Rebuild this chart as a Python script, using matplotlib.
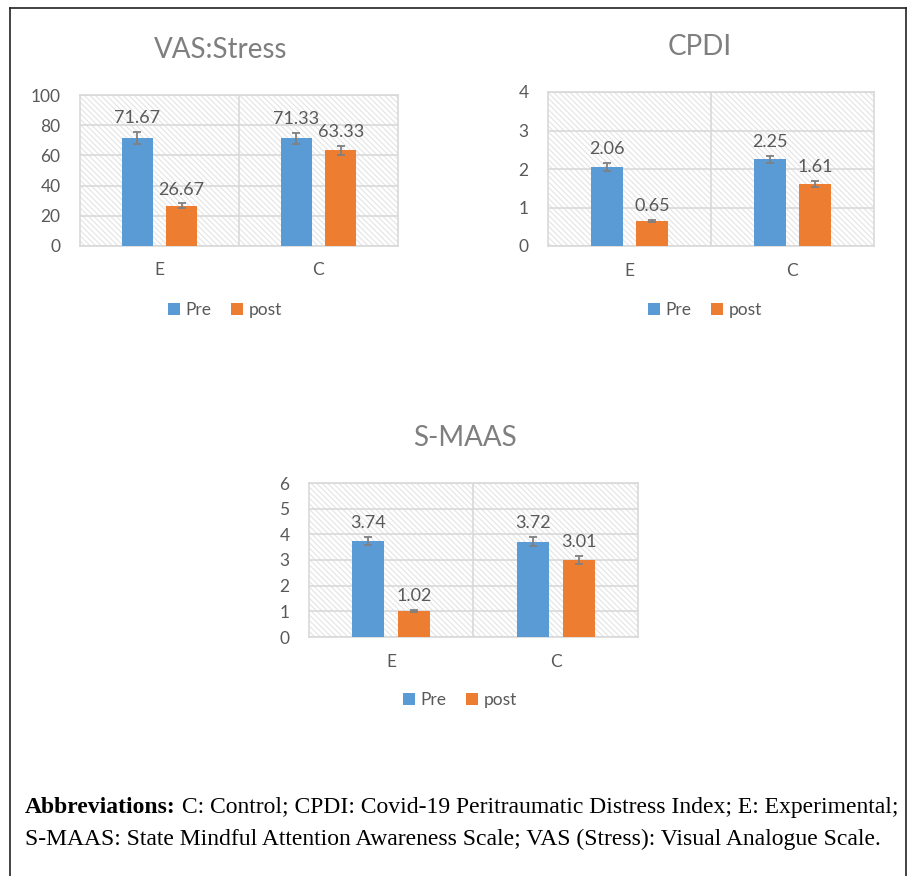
import matplotlib
matplotlib.use("Agg")
import matplotlib.pyplot as plt
from matplotlib.patches import Rectangle, Patch
from matplotlib.lines import Line2D

categories = ["E", "C"]
series_names = ["Pre", "post"]

vas_pre = [71.67, 71.33]
vas_post = [26.67, 63.33]
vas_pre_err = [4.0, 3.7]
vas_post_err = [1.5, 3.2]

cpdi_pre = [2.06, 2.25]
cpdi_post = [0.65, 1.61]
cpdi_pre_err = [0.10, 0.09]
cpdi_post_err = [0.03, 0.08]

smaas_pre = [3.74, 3.72]
smaas_post = [1.02, 3.01]
smaas_pre_err = [0.17, 0.19]
smaas_post_err = [0.05, 0.15]

vas_ticks = [0, 20, 40, 60, 80, 100]
cpdi_ticks = [0, 1, 2, 3, 4]
smaas_ticks = [0, 1, 2, 3, 4, 5, 6]

C_PRE = "#5B9BD5"
C_POST = "#ED7D31"
TXT = "#595959"
GRID = "#d9d9d9"
FONT = "Lato"
FS = 12.5

plt.rcParams["hatch.linewidth"] = 0.8

W, H = 912, 876
fig = plt.figure(figsize=(W / 100, H / 100), dpi=100)


def fbox(l, t, r, b):
    return [l / W, (H - b) / H, (r - l) / W, (b - t) / H]


def panel(rect, title, pre, post, pre_err, post_err, ticks, title_xy, cat_y, leg_xy):
    ax = fig.add_axes(rect)
    ax.set_xlim(0, 2)
    ax.set_ylim(ticks[0], ticks[-1])
    ax.add_patch(Rectangle((0, 0), 1, 1, transform=ax.transAxes, facecolor="white",
                           edgecolor="#e4e4e4", hatch="\\\\\\\\\\\\", lw=0, zorder=0))
    for t in ticks:
        ax.axhline(t, color=GRID, lw=1.2, zorder=1)
    ax.axvline(1, color=GRID, lw=1.2, zorder=1)
    for s in ax.spines.values():
        s.set_color(GRID)
        s.set_linewidth(1.2)
    xs = [0.5, 1.5]
    bw = 0.195
    off = 0.14
    xp = [x - off for x in xs]
    xq = [x + off for x in xs]
    ax.bar(xp, pre, width=bw, color=C_PRE, zorder=3)
    ax.bar(xq, post, width=bw, color=C_POST, zorder=3)
    ax.errorbar(xp, pre, yerr=pre_err, fmt="none", ecolor="#808080", elinewidth=1.3,
                capsize=3.2, capthick=1.3, zorder=4)
    ax.errorbar(xq, post, yerr=post_err, fmt="none", ecolor="#808080", elinewidth=1.3,
                capsize=3.2, capthick=1.3, zorder=4)
    for x, v, e in list(zip(xp, pre, pre_err)) + list(zip(xq, post, post_err)):
        ax.annotate(f"{v:.2f}", xy=(x, v + e), xytext=(0, 4), textcoords="offset points",
                    ha="center", va="bottom", fontsize=13, color=TXT, family=FONT, zorder=5)
    ax.set_yticks(ticks)
    ax.set_yticklabels([str(t) for t in ticks], fontsize=FS, color=TXT, family=FONT)
    ax.tick_params(axis="y", length=0, pad=14)
    ax.set_xticks([])
    for x, c in zip(xs, categories):
        ax.text(x, cat_y, c, transform=ax.get_xaxis_transform(), ha="center", va="center",
                fontsize=FS, color=TXT, family=FONT)
    fig.text(title_xy[0] / W, 1 - title_xy[1] / H, title, ha="center", va="center",
             fontsize=20, color="#7f7f7f", family=FONT)
    handles = [Patch(facecolor=C_PRE), Patch(facecolor=C_POST)]
    leg = fig.legend(handles, series_names, loc="center",
                     bbox_to_anchor=(leg_xy[0] / W, 1 - leg_xy[1] / H), ncol=2, frameon=False,
                     handlelength=0.7, handleheight=0.7, handletextpad=0.35, columnspacing=1.1,
                     prop={"family": FONT, "size": FS})
    for t in leg.get_texts():
        t.set_color(TXT)
    return ax


panel(fbox(80, 95, 398, 246), "VAS:Stress", vas_pre, vas_post, vas_pre_err, vas_post_err,
      vas_ticks, (221, 50), -0.16, (225, 310))
panel(fbox(548, 92, 874, 246), "CPDI", cpdi_pre, cpdi_post, cpdi_pre_err, cpdi_post_err,
      cpdi_ticks, (700, 47), -0.16, (705, 310))
panel(fbox(309, 483, 638, 637), "S-MAAS", smaas_pre, smaas_post, smaas_pre_err, smaas_post_err,
      smaas_ticks, (465, 438), -0.16, (460, 700))

# outer border
for xs_, ys_ in [((10, 10), (8, 876)), ((10, 906), (8, 8)), ((906, 906), (8, 876))]:
    fig.add_artist(Line2D([x / W for x in xs_], [1 - y / H for y in ys_], color="#222222",
                          lw=1.2, transform=fig.transFigure))

ABBR_FS = 17
bold = fig.text(25 / W, 1 - 813 / H, "Abbreviations:", fontsize=ABBR_FS, fontweight="bold",
                family="Liberation Serif", ha="left", va="baseline", color="black")
fig.add_artist(plt.Annotation(" C: Control; CPDI: Covid-19 Peritraumatic Distress Index; E: Experimental;",
                              xy=(1, 0), xycoords=bold, va="bottom", ha="left",
                              fontsize=ABBR_FS, family="Liberation Serif", color="black"))
fig.text(25 / W, 1 - 845 / H,
         "S-MAAS: State Mindful Attention Awareness Scale; VAS (Stress): Visual Analogue Scale.",
         fontsize=ABBR_FS, family="Liberation Serif", ha="left", va="baseline", color="black")

fig.savefig("out.png", dpi=100, facecolor="white")
